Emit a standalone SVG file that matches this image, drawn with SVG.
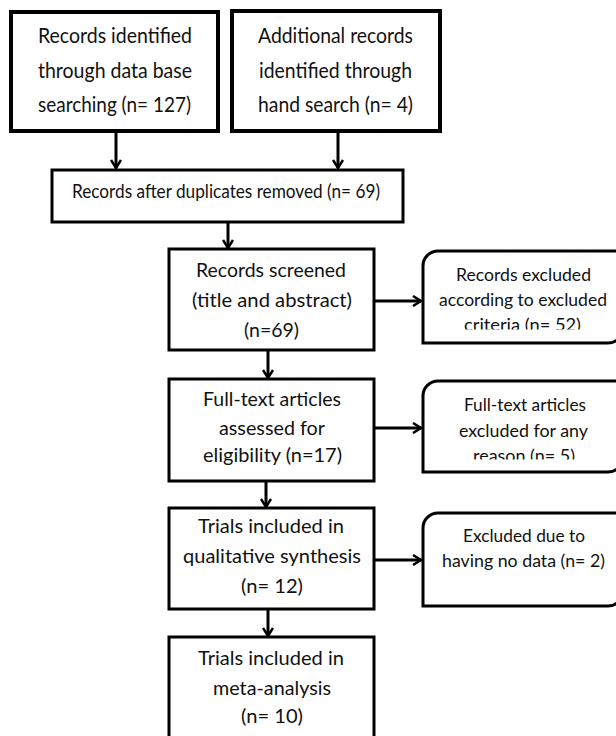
<svg xmlns="http://www.w3.org/2000/svg" width="616" height="736" viewBox="0 0 616 736">
<defs>
<style>
.box{fill:#fff;stroke:#000;stroke-width:3}
.thick{stroke-width:4}
.t{font-family:Lato,"Liberation Sans",sans-serif;fill:#111;text-anchor:middle}
.big{font-size:21px}
.one{font-size:19.5px}
.mid{font-size:19px}
.sm{font-size:16.5px}
.conn{fill:none;stroke:#000;stroke-width:3}
</style>
<marker id="ah" markerWidth="12" markerHeight="12" viewBox="0 0 12 12" refX="10" refY="6" orient="auto" markerUnits="userSpaceOnUse">
<path d="M2,1 L10,6 L2,11" fill="none" stroke="#000" stroke-width="2.5"/>
</marker>
<clipPath id="c1"><rect x="423" y="251" width="200" height="78.5"/></clipPath>
<clipPath id="c2"><rect x="423" y="381" width="200" height="78.5"/></clipPath>
</defs>
<rect width="616" height="736" fill="#fff"/>
<g id="connectors">
<line class="conn" x1="116" y1="131" x2="116" y2="168" marker-end="url(#ah)"/>
<line class="conn" x1="338" y1="131" x2="338" y2="168" marker-end="url(#ah)"/>
<line class="conn" x1="228" y1="222" x2="228" y2="248" marker-end="url(#ah)"/>
<line class="conn" x1="268" y1="350" x2="268" y2="378" marker-end="url(#ah)"/>
<line class="conn" x1="266" y1="481" x2="266" y2="507" marker-end="url(#ah)"/>
<line class="conn" x1="268" y1="609" x2="268" y2="636" marker-end="url(#ah)"/>
<line class="conn" x1="374" y1="301" x2="421" y2="301" marker-end="url(#ah)"/>
<line class="conn" x1="374" y1="428" x2="421" y2="428" marker-end="url(#ah)"/>
<line class="conn" x1="374" y1="560" x2="421" y2="560" marker-end="url(#ah)"/>
</g>
<g id="n1">
<rect class="box thick" x="11" y="12" width="207" height="119"/>
<text class="t big" x="115" y="43" textLength="154" lengthAdjust="spacingAndGlyphs">Records identified</text>
<text class="t big" x="115" y="78" textLength="154" lengthAdjust="spacingAndGlyphs">through data base</text>
<text class="t big" x="114.5" y="112" textLength="153" lengthAdjust="spacingAndGlyphs">searching (n= 127)</text>
</g>
<g id="n2">
<rect class="box thick" x="232" y="11" width="208" height="120"/>
<text class="t big" x="335.5" y="43" textLength="155" lengthAdjust="spacingAndGlyphs">Additional records</text>
<text class="t big" x="335.5" y="78" textLength="153" lengthAdjust="spacingAndGlyphs">identified through</text>
<text class="t big" x="335.5" y="112" textLength="155" lengthAdjust="spacingAndGlyphs">hand search (n= 4)</text>
</g>
<g id="n3">
<rect class="box" x="52" y="170" width="351" height="52"/>
<text class="t one" x="226" y="198" textLength="308" lengthAdjust="spacingAndGlyphs">Records after duplicates removed (n= 69)</text>
</g>
<g id="n4">
<rect class="box" x="169" y="249" width="205" height="101"/>
<text class="t mid" x="271" y="277" textLength="150" lengthAdjust="spacingAndGlyphs">Records screened</text>
<text class="t mid" x="272" y="307" textLength="160" lengthAdjust="spacingAndGlyphs">(title and abstract)</text>
<text class="t mid" x="271.5" y="337" textLength="55" lengthAdjust="spacingAndGlyphs">(n=69)</text>
</g>
<g id="n5">
<path class="box" d="M423,266 A15,15 0 0 1 438,251 H623 V328 A15,15 0 0 1 608,343 H423 Z"/>
<g clip-path="url(#c1)">
<text class="t sm" x="523.5" y="281" textLength="135" lengthAdjust="spacingAndGlyphs">Records excluded</text>
<text class="t sm" x="523" y="306" textLength="168" lengthAdjust="spacingAndGlyphs">according to excluded</text>
<text class="t sm" x="522.5" y="331" textLength="117" lengthAdjust="spacingAndGlyphs">criteria (n= 52)</text>
</g>
</g>
<g id="n6">
<rect class="box" x="169" y="379" width="205" height="102"/>
<text class="t mid" x="272" y="406" textLength="138" lengthAdjust="spacingAndGlyphs">Full-text articles</text>
<text class="t mid" x="272" y="435" textLength="106" lengthAdjust="spacingAndGlyphs">assessed for</text>
<text class="t mid" x="272.5" y="462" textLength="139" lengthAdjust="spacingAndGlyphs">eligibility (n=17)</text>
</g>
<g id="n7">
<path class="box" d="M423,396 A15,15 0 0 1 438,381 H623 V457 A15,15 0 0 1 608,472 H423 Z"/>
<g clip-path="url(#c2)">
<text class="t sm" x="525" y="411" textLength="122" lengthAdjust="spacingAndGlyphs">Full-text articles</text>
<text class="t sm" x="523.5" y="437" textLength="129" lengthAdjust="spacingAndGlyphs">excluded for any</text>
<text class="t sm" x="524" y="462" textLength="102" lengthAdjust="spacingAndGlyphs">reason (n= 5)</text>
</g>
</g>
<g id="n8">
<rect class="box" x="169" y="508" width="205" height="101"/>
<text class="t mid" x="271" y="533" textLength="146" lengthAdjust="spacingAndGlyphs">Trials included in</text>
<text class="t mid" x="272" y="563" textLength="178" lengthAdjust="spacingAndGlyphs">qualitative synthesis</text>
<text class="t mid" x="272" y="593" textLength="62" lengthAdjust="spacingAndGlyphs">(n= 12)</text>
</g>
<g id="n9">
<path class="box" d="M423,528 A15,15 0 0 1 438,513 H623 V591 A15,15 0 0 1 608,606 H423 Z"/>
<text class="t sm" x="524" y="542" textLength="122" lengthAdjust="spacingAndGlyphs">Excluded due to</text>
<text class="t sm" x="523.5" y="567" textLength="163" lengthAdjust="spacingAndGlyphs">having no data (n= 2)</text>
</g>
<g id="n10">
<rect class="box" x="169" y="637" width="205" height="110"/>
<text class="t mid" x="271" y="665" textLength="146" lengthAdjust="spacingAndGlyphs">Trials included in</text>
<text class="t mid" x="272" y="695" textLength="118" lengthAdjust="spacingAndGlyphs">meta-analysis</text>
<text class="t mid" x="272" y="723" textLength="62" lengthAdjust="spacingAndGlyphs">(n= 10)</text>
</g>
</svg>
